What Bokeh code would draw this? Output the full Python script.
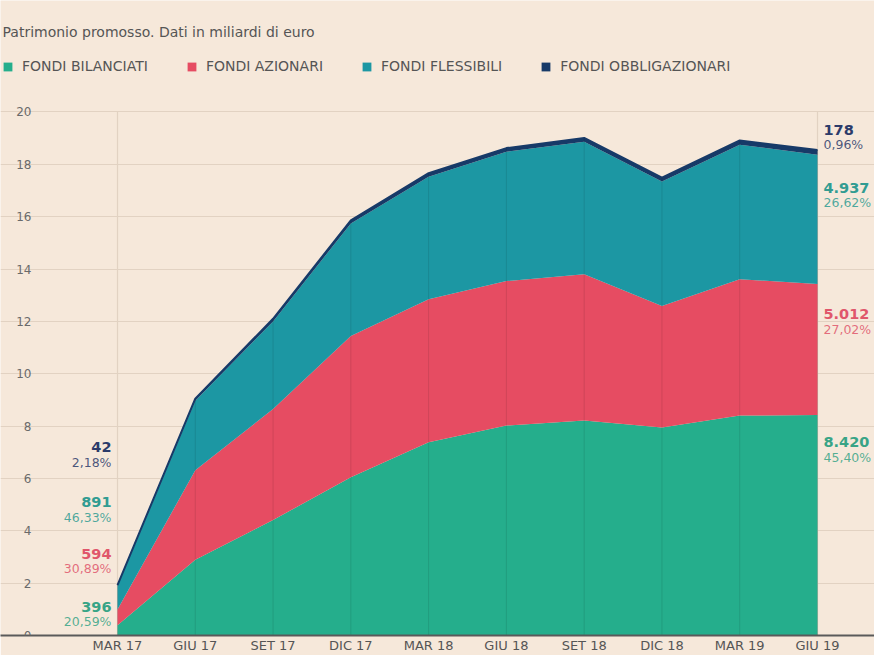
from bokeh.plotting import figure
from bokeh.models import FixedTicker, Legend, LegendItem, Label, ColumnDataSource
from bokeh.embed import file_html
from bokeh.resources import INLINE
from bokeh.core.properties import value

# ---------------- data (miliardi di euro) ----------------
quarters = ["MAR 17", "GIU 17", "SET 17", "DIC 17", "MAR 18",
            "GIU 18", "SET 18", "DIC 18", "MAR 19", "GIU 19"]
bilanciati = [0.396, 2.89, 4.41, 6.05, 7.38, 8.02, 8.21, 7.95, 8.40, 8.420]
azionari = [0.594, 3.42, 4.24, 5.39, 5.47, 5.52, 5.59, 4.64, 5.21, 5.012]
flessibili = [0.891, 2.66, 3.35, 4.30, 4.68, 4.94, 5.06, 4.75, 5.14, 4.937]
obbligazionari = [0.042, 0.08, 0.10, 0.12, 0.13, 0.14, 0.15, 0.15, 0.16, 0.178]
series_names = ["FONDI BILANCIATI", "FONDI AZIONARI", "FONDI FLESSIBILI", "FONDI OBBLIGAZIONARI"]
y_ticks = [0, 2, 4, 6, 8, 10, 12, 14, 16, 18, 20]
title_text = "Patrimonio promosso. Dati in miliardi di euro"

# ---------------- style ----------------
BG = "#f6e8da"
GRID = "#e2d2c2"
AREA_COLORS = ["#25ae8c", "#e64c62", "#1c97a3", "#173a68"]
TEXT_COLORS = ["#38a486", "#e0566b", "#319c92", "#2c3b6a"]
FONT = "DejaVu Sans"
# label positions (data-y) for the end annotations
right_label_y = [7.38, 12.28, 17.11, 19.32]
left_label_y = [1.10, 3.12, 5.10, 7.19]

series = [bilanciati, azionari, flessibili, obbligazionari]
keys = ["bil", "az", "fle", "obb"]
xs = list(range(len(quarters)))
totals = [sum(v) for v in zip(*series)]

data = {"x": xs}
for k, s in zip(keys, series):
    data[k] = s
source = ColumnDataSource(data)

px_per_x = 700 / 9.0
x_start = -117 / px_per_x
x_end = 9 + 57 / px_per_x
y_end = 638 / 26.3

p = figure(width=874, height=655, output_backend="svg", toolbar_location=None,
           x_range=(x_start, x_end), y_range=(0, y_end),
           min_border_left=0, min_border_right=0, min_border_top=0, min_border_bottom=17,
           background_fill_color=BG, border_fill_color=BG, outline_line_color=None)

# full-height frame lines at first and last quarter
p.segment(x0=[xs[0], xs[-1]], y0=[0, 0], x1=[xs[0], xs[-1]], y1=[y_ticks[-1]] * 2,
          line_color=GRID, line_width=1.2)

areas = p.varea_stack(stackers=keys, x="x", color=AREA_COLORS, source=source)

# top outline of the stack
p.line(x=xs, y=totals, line_color=AREA_COLORS[3], line_width=2)

# faint quarter lines over the areas
p.segment(x0=xs, y0=[0] * len(xs), x1=xs, y1=totals, line_color="#000000",
          line_alpha=0.10, line_width=1)

# axes
yax = p.yaxis[0]
yax.fixed_location = x_start + 31 / px_per_x
yax.ticker = FixedTicker(ticks=y_ticks)
yax.major_label_text_baseline = "bottom"
yax.major_label_text_align = "right"
yax.major_label_standoff = 0
yax.major_tick_in = 0
yax.major_tick_out = 0
yax.minor_tick_in = 0
yax.minor_tick_out = 0
yax.minor_tick_line_color = None
yax.axis_line_color = None
yax.major_label_text_font = FONT
yax.major_label_text_font_size = "12px"
yax.major_label_text_color = "#6a6a6a"

xax = p.xaxis[0]
xax.ticker = FixedTicker(ticks=xs)
xax.major_label_overrides = {i: q for i, q in enumerate(quarters)}
xax.major_tick_in = 0
xax.major_tick_out = 0
xax.minor_tick_in = 0
xax.minor_tick_out = 0
xax.minor_tick_line_color = None
xax.axis_line_color = "#5a5a5a"
xax.axis_line_width = 2
xax.major_label_standoff = 2
xax.major_label_text_font = FONT
xax.major_label_text_font_size = "13px"
xax.major_label_text_color = "#555555"

p.xgrid.visible = False
p.ygrid.ticker = FixedTicker(ticks=y_ticks)
p.ygrid.grid_line_color = GRID
p.ygrid.grid_line_width = 1.2

# title
p.add_layout(Label(x=2, y=604, x_units="screen", y_units="screen", text=title_text,
                   text_font=FONT, text_font_size="14px", text_color="#555555",
                   text_baseline="middle"))

# legend
legend = Legend(items=[LegendItem(label=n, renderers=[r]) for n, r in zip(series_names, areas)],
                location=(2, 561), orientation="horizontal", glyph_width=11, glyph_height=11,
                label_standoff=9, spacing=38, padding=0, margin=0,
                background_fill_alpha=0, border_line_color=None,
                label_text_font=FONT, label_text_font_size="14px", label_text_color="#555555")
p.add_layout(legend)


def fmt_num(v):
    return f"{int(round(v * 1000)):,}".replace(",", ".")


def fmt_pct(v, tot):
    return f"{v / tot * 100:.2f}".replace(".", ",") + "%"


end_src = ColumnDataSource(dict(
    x=[xs[-1]] * 4, y=right_label_y,
    num=[fmt_num(s[-1]) for s in series],
    pct=[fmt_pct(s[-1], totals[-1]) for s in series],
    color=TEXT_COLORS))
start_src = ColumnDataSource(dict(
    x=[xs[0]] * 4, y=left_label_y,
    num=[fmt_num(s[0]) for s in series],
    pct=[fmt_pct(s[0], totals[0]) for s in series],
    color=TEXT_COLORS))

for src, align, xo in [(end_src, "left", 6), (start_src, "right", -6)]:
    p.text(x="x", y="y", text="num", source=src, text_color="color",
           text_font=value(FONT), text_font_style="bold", text_font_size="14.5px",
           text_align=align, text_baseline="middle", x_offset=xo)
    p.text(x="x", y="y", text="pct", source=src, text_color="color", text_alpha=0.85,
           text_font=value(FONT), text_font_size="12.5px",
           text_align=align, text_baseline="middle", x_offset=xo, y_offset=15)

open("out.html", "w").write(file_html(p, INLINE))
